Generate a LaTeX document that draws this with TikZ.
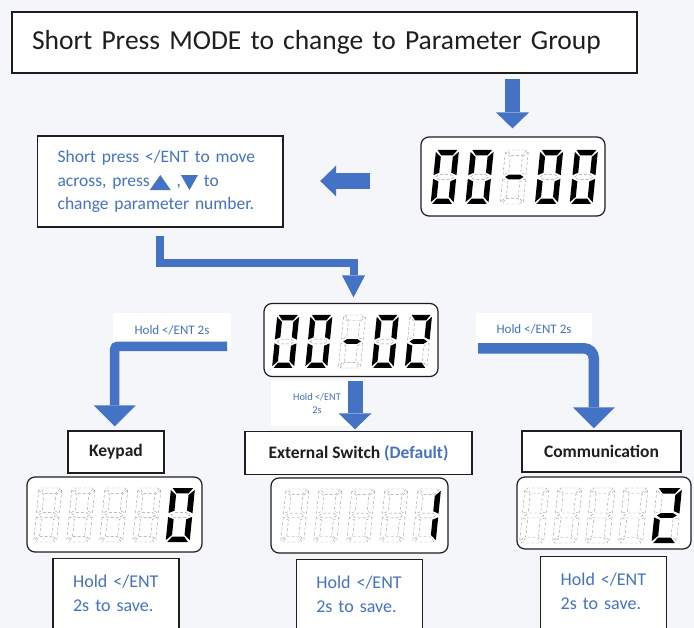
\documentclass[tikz,border=0pt]{standalone}
\usepackage{fontspec}
\setmainfont{Carlito}
\usetikzlibrary{arrows.meta}
\definecolor{ablue}{HTML}{4472C4}
\definecolor{bgc}{HTML}{F5F6F9}
\definecolor{ink}{HTML}{1E1E1E}

\tikzset{
  seg1/.style={fill=black},
  seg0/.style={draw=black!40, densely dashed, line width=0.4pt},
  lcdframe/.style={draw=ink, line width=1.2pt, rounded corners=8pt, fill=white, inner sep=0pt},
  framebox/.style={draw=ink, line width=1.4pt, fill=white, inner sep=0pt},
  holdlabel/.style={fill=white, text=ablue, inner sep=0pt},
  choice/.style={framebox, text=ink, font=\bfseries\fontsize{17.5}{20}\selectfont},
  savebox/.style={framebox, anchor=north west, inner xsep=20pt, inner ysep=16pt,
    text width=86pt, text depth=60pt, align=left, text=ablue,
    font=\fontsize{18}{24.5}\selectfont},
  flow/.style={color=ablue, line width=#1},
}

% one seven-segment digit: #1 = top-left x,y ; #2 = width ; #3 = half height ; #4 = flags abcdefg
\newcommand\lcddigit[4]{%
  \begin{scope}[shift={(#1)}, x={(#2pt,0pt)}, y={({-0.1*#3pt},{-#3pt})}]
    \lcdsegs#4\relax
  \end{scope}}
\def\lcdsegs#1#2#3#4#5#6#7\relax{%
  \path[seg#1] (0.07,0) -- (0.93,0) -- (0.75,0.2) -- (0.25,0.2) -- cycle;
  \path[seg#2] (1,0.07) -- (1,0.93) -- (0.76,0.84) -- (0.76,0.26) -- cycle;
  \path[seg#3] (1,1.07) -- (1,1.93) -- (0.76,1.74) -- (0.76,1.16) -- cycle;
  \path[seg#4] (0.07,2) -- (0.93,2) -- (0.75,1.8) -- (0.25,1.8) -- cycle;
  \path[seg#5] (0,1.07) -- (0,1.93) -- (0.24,1.74) -- (0.24,1.16) -- cycle;
  \path[seg#6] (0,0.07) -- (0,0.93) -- (0.24,0.84) -- (0.24,0.26) -- cycle;
  \path[seg#7] (0.1,1) -- (0.26,0.91) -- (0.74,0.91) -- (0.9,1) -- (0.74,1.09) -- (0.26,1.09) -- cycle;
}
\newcommand\uptri{\tikz[baseline=4pt]\fill[ablue] (0pt,0pt) -- (21pt,0pt) -- (10.5pt,15pt) -- cycle;}
\newcommand\downtri{\tikz[baseline=4pt]\fill[ablue] (0pt,15pt) -- (17pt,15pt) -- (8.5pt,0pt) -- cycle;}

\begin{document}
\begin{tikzpicture}[x=1pt, y=-1pt]
\useasboundingbox (0,0) rectangle (694,628);
\clip (0,0) rectangle (694,628);
\fill[bgc] (0,0) rectangle (694,628);

% title and instruction box
\node[framebox, minimum width=625pt, minimum height=61pt, inner xsep=20pt, text width=585pt,
      align=left, text=ink, font=\fontsize{27.5}{33}\selectfont] (title) at (324.5,42.5)
  {Short Press MODE to change to Parameter Group};
\node[framebox, minimum width=245.4pt, minimum height=91pt, inner xsep=20pt, text width=205.4pt,
      align=left, text=ablue, font=\fontsize{17.5}{23.5}\selectfont] (box2) at (160.3,181.5)
  {Short press </ENT to move\\across, press\uptri\ ,\downtri\ to\\change parameter number.};

% displays
\node[lcdframe, minimum width=184pt, minimum height=79pt] (d1) at (513,176.5) {};
\lcddigit{436,150}{23}{27}{1111110}
\lcddigit{470.75,150}{23}{27}{1111110}
\lcddigit{505.5,150}{23}{27}{0000001}
\lcddigit{540.25,150}{23}{27}{1111110}
\lcddigit{575,150}{23}{27}{1111110}

\node[lcdframe, minimum width=174pt, minimum height=73pt] (d2) at (351,340) {};
\lcddigit{277.3,315}{22}{26.5}{1111110}
\lcddigit{310.5,315}{22}{26.5}{1111110}
\lcddigit{343.7,315}{22}{26.5}{0000001}
\lcddigit{376.9,315}{22}{26.5}{1111110}
\lcddigit{410.1,315}{22}{26.5}{1101101}

% hold labels
\node[holdlabel, minimum width=118pt, minimum height=34pt, font=\fontsize{13}{15}\selectfont] (lblL) at (172,330) {Hold </ENT 2s};
\node[holdlabel, minimum width=116pt, minimum height=32pt, font=\fontsize{13}{15}\selectfont] (lblR) at (534,329) {Hold </ENT 2s};
\node[holdlabel, minimum width=92pt, minimum height=45pt, align=center, font=\fontsize{10.3}{13.2}\selectfont] (lblM) at (317,403.5) {Hold </ENT\\2s};

% choices
\node[choice, minimum width=96pt, minimum height=42pt] (kp) at (116,452) {Keypad};
\node[choice, minimum width=227pt, minimum height=43pt] (ex) at (358.5,453) {External Switch {\color{ablue}(Default)}};
\node[choice, minimum width=159pt, minimum height=41pt] (cm) at (601.5,451.5) {Communication};

% bottom displays
\node[lcdframe, minimum width=175pt, minimum height=75pt] (dk) at (114.5,514.5) {};
\lcddigit{39,488}{23}{27}{0000000}
\lcddigit{72,488}{23}{27}{0000000}
\lcddigit{105,488}{23}{27}{0000000}
\lcddigit{138,488}{23}{27}{0000000}
\lcddigit{171,488}{24}{27}{1111110}

\node[lcdframe, minimum width=177pt, minimum height=75pt] (de) at (359.5,515.5) {};
\lcddigit{286,489}{23}{26.5}{0000000}
\lcddigit{319,489}{23}{26.5}{0000000}
\lcddigit{352,489}{23}{26.5}{0000000}
\lcddigit{385,489}{23}{26.5}{0000000}
\lcddigit{418,489}{23}{26.5}{0110000}

\node[lcdframe, minimum width=174pt, minimum height=72pt] (dc) at (604,513) {};
\lcddigit{525,488}{24}{27.5}{0000000}
\lcddigit{558,488}{24}{27.5}{0000000}
\lcddigit{591,488}{24}{27.5}{0000000}
\lcddigit{624,488}{24}{27.5}{0000000}
\lcddigit{657,488}{25}{27.5}{1101101}

% save boxes
\node[savebox] (sk) at (52.4,558) {Hold </ENT\\2s to save.};
\node[savebox] (se) at (295.6,559) {Hold </ENT\\2s to save.};
\node[savebox] (sc) at (540,556) {Hold </ENT\\2s to save.};

% connectors
\coordinate (a1) at (512.5,79);
\draw[flow=15pt, -{Triangle[length=16pt,width=33pt,line width=0pt]}, shorten >=8pt] (a1) -- (a1 |- d1.north);
\coordinate (a2) at (369.5,181);
\draw[flow=16pt, -{Triangle[length=16pt,width=31pt,line width=0pt]}, shorten >=36.5pt] (a2) -- (a2 -| box2.east);
\coordinate (a3) at (160,236);
\coordinate (a3b) at (353.5,263);
\draw[flow=8pt, -{Triangle[length=22pt,width=23pt,line width=0pt]}, shorten >=5.5pt] (a3) |- (a3b) -- (a3b |- d2.north);
\coordinate (a4) at (227,346.3);
\draw[flow=9.5pt, rounded corners=3pt, -{Triangle[length=21pt,width=42pt,line width=0pt]}, shorten >=4pt] (a4) -| ([xshift=-1.3pt]kp.north);
\coordinate (a5) at (355,381);
\draw[flow=15pt, -{Triangle[length=16pt,width=33pt,line width=0pt]}, shorten >=1.5pt] (a5) -- (a5 |- ex.north);
\coordinate (a6) at (478,348.3);
\draw[flow=10.5pt, rounded corners=10pt, -{Triangle[length=21pt,width=42pt,line width=0pt]}, shorten >=2pt] (a6) -| ([xshift=-7.7pt]cm.north);
\end{tikzpicture}
\end{document}
